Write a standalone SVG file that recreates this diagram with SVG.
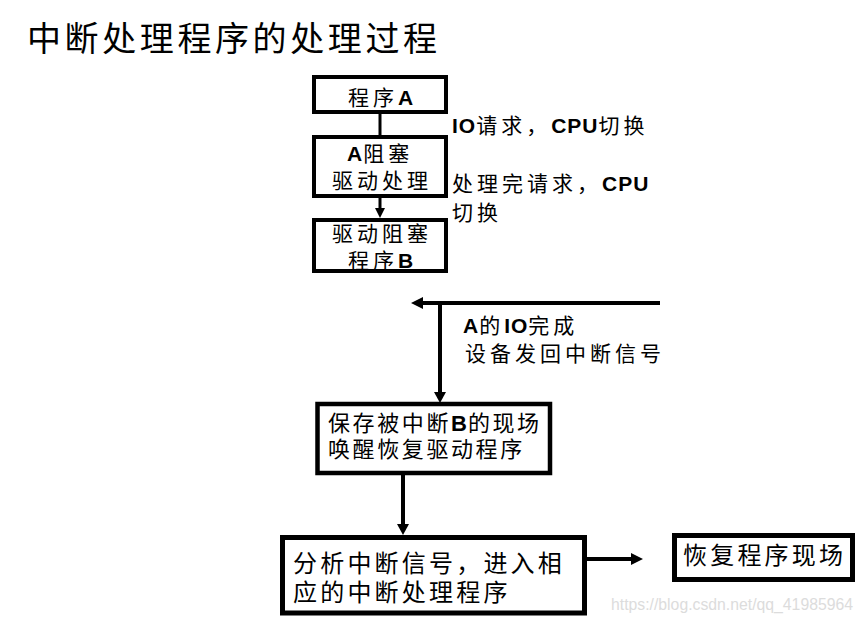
<svg xmlns="http://www.w3.org/2000/svg" width="863" height="621" viewBox="0 0 863 621">
<style>
  text { font-family: "Liberation Sans", "Noto Sans CJK SC", sans-serif; fill: #000; }
  .title { font-size: 34px; letter-spacing: 3.6px; }
  .s21 { font-size: 21px; letter-spacing: 4px; }
  .s22 { font-size: 22px; letter-spacing: 2.6px; }
  .s24 { font-size: 24px; letter-spacing: 3.2px; }
  .b { font-weight: bold; letter-spacing: 1px; }
  .box { fill: #fff; stroke: #000; }
  .line { stroke: #000; fill: none; }
  .head { fill: #000; stroke: none; }
  .wm { font-size: 16px; fill: #dcdcdc; letter-spacing: 0; }
</style>
<rect width="863" height="621" fill="#fff"/>
<text class="title" x="27" y="51">中断处理程序的处理过程</text>

<g id="connectors">
  <line class="line" x1="380" y1="113" x2="380" y2="136" stroke-width="3"/>
  <line class="line" x1="380" y1="197" x2="380" y2="210" stroke-width="3"/>
  <polygon class="head" points="375,208 385,208 380,218"/>
  <line class="line" x1="660" y1="303" x2="421" y2="303" stroke-width="4"/>
  <polygon class="head" points="411,303 423,297 423,309"/>
  <line class="line" x1="440" y1="303" x2="440" y2="394" stroke-width="4"/>
  <polygon class="head" points="434,392 446,392 440,403"/>
  <line class="line" x1="403" y1="474" x2="403" y2="526" stroke-width="4"/>
  <polygon class="head" points="397,524 409,524 403,535"/>
  <line class="line" x1="586" y1="559" x2="633" y2="559" stroke-width="4"/>
  <polygon class="head" points="631,553 631,565 643,559"/>
</g>

<g id="node-programA">
  <rect class="box" x="314" y="77" width="132" height="35" stroke-width="4"/>
  <text class="s21" x="348" y="105">程序<tspan class="b">A</tspan></text>
</g>
<g id="node-driver">
  <rect class="box" x="314" y="137" width="132" height="59" stroke-width="4"/>
  <text class="s21" x="347" y="161"><tspan class="b">A</tspan>阻塞</text>
  <text class="s21" x="332" y="188">驱动处理</text>
</g>
<g id="node-programB">
  <rect class="box" x="314" y="220" width="132" height="51" stroke-width="4"/>
  <text class="s21" x="332" y="241">驱动阻塞</text>
  <text class="s21" x="348" y="268">程序<tspan class="b">B</tspan></text>
</g>

<g id="labels">
  <text class="s21" x="452" y="133"><tspan class="b">IO</tspan>请求，<tspan class="b">CPU</tspan>切换</text>
  <text class="s21" x="452" y="191">处理完请求，<tspan class="b">CPU</tspan></text>
  <text class="s21" x="452" y="220">切换</text>
  <text class="s21" x="463" y="333"><tspan class="b">A</tspan>的<tspan class="b">IO</tspan>完成</text>
  <text class="s21" x="465" y="361">设备发回中断信号</text>
</g>

<g id="node-save">
  <rect class="box" x="317.5" y="404" width="232.5" height="69" stroke-width="4.5"/>
  <text class="s22" x="328" y="430.5">保存被中断<tspan class="b">B</tspan>的现场</text>
  <text class="s22" x="328" y="456.5">唤醒恢复驱动程序</text>
</g>

<g id="node-analyze">
  <rect class="box" x="282.5" y="537.5" width="302" height="75.5" stroke-width="5"/>
  <text class="s24" x="293" y="572">分析中断信号，进入相</text>
  <text class="s24" x="293" y="601">应的中断处理程序</text>
</g>

<g id="node-restore">
  <rect class="box" x="674.5" y="535.5" width="178" height="44" stroke-width="5"/>
  <text class="s24" x="683" y="564">恢复程序现场</text>
</g>

<text class="wm" x="611" y="610" textLength="242" lengthAdjust="spacingAndGlyphs">https://blog.csdn.net/qq_41985964</text>
</svg>
